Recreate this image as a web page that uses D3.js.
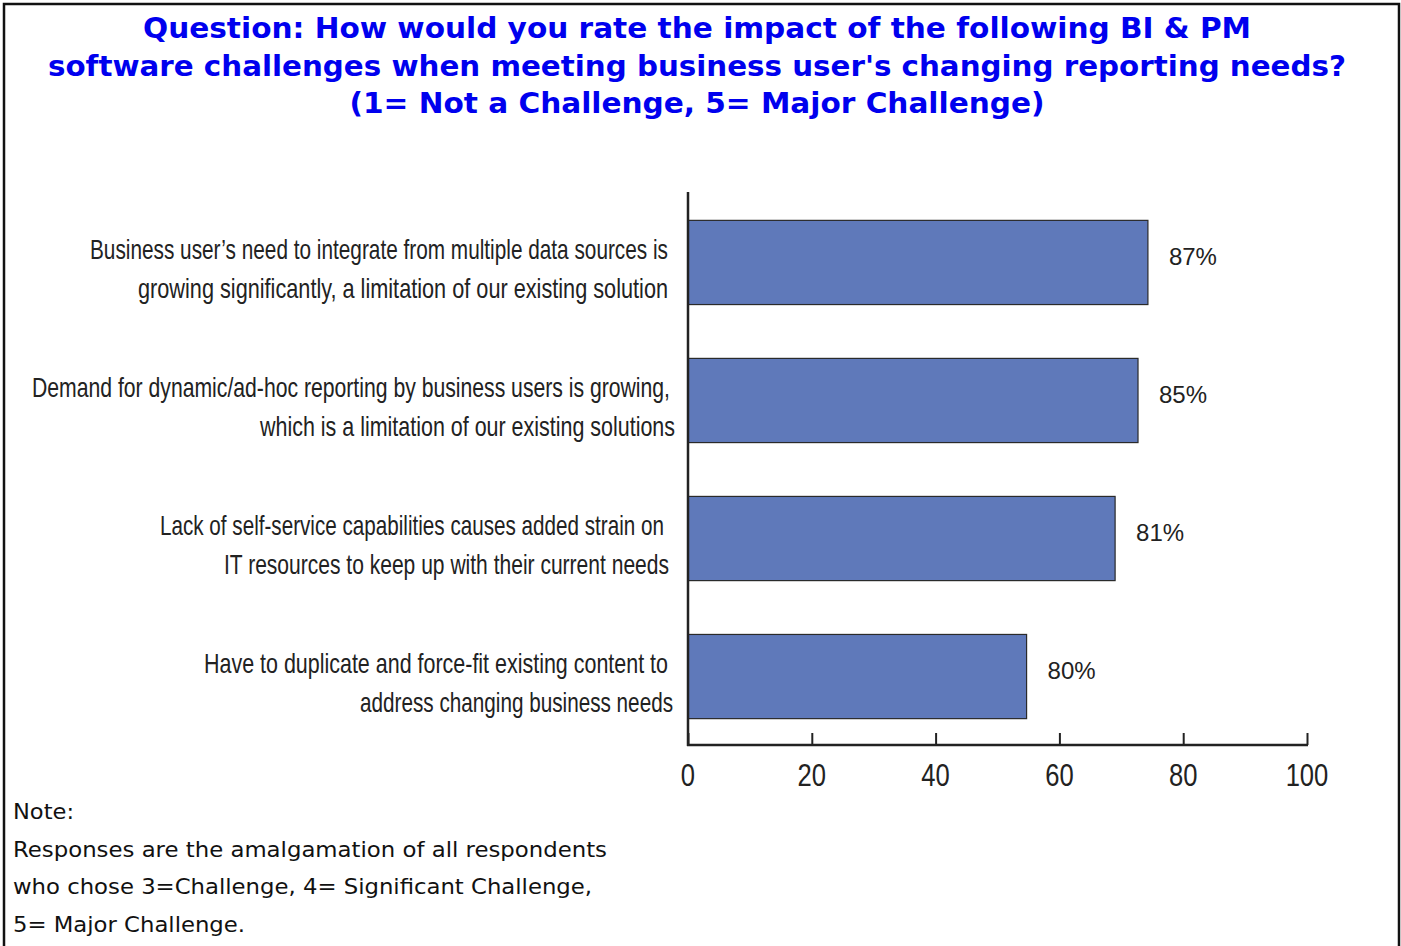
<!DOCTYPE html>
<html><head><meta charset="utf-8">
<script src="https://cdn.jsdelivr.net/npm/d3@7"></script>
<style>html,body{margin:0;padding:0;background:#fff;}svg{display:block;}</style>
</head><body>
<script>
// ---- data ----
const titleLines = [
  "Question: How would you rate the impact of the following BI & PM",
  "software challenges when meeting business user's changing reporting needs?",
  "(1= Not a Challenge, 5= Major Challenge)"
];
const categories = ["c1", "c2", "c3", "c4"];
const categoryLabels = [
  ["Business user\u2019s need to integrate from multiple data sources is", "growing significantly, a limitation of our existing solution"],
  ["Demand for dynamic/ad-hoc reporting by business users is growing,", "which is a limitation of our existing solutions"],
  ["Lack of self-service capabilities causes added strain on", "IT resources to keep up with their current needs"],
  ["Have to duplicate and force-fit existing content to", "address changing business needs"]
];
const barValues = [74.3, 72.7, 69.0, 54.7];
const valueLabels = ["87%", "85%", "81%", "80%"];
const xTicks = [0, 20, 40, 60, 80, 100];
const noteLines = [
  "Note:",
  "Responses are the amalgamation of all respondents",
  "who chose 3=Challenge, 4= Significant Challenge,",
  "5= Major Challenge."
];

// ---- layout ----
const W = 1401, H = 946;
const svg = d3.select("body").append("svg").attr("width", W).attr("height", H);

// frame
svg.append("path").attr("d", `M4,${H} L4,4 L1399,4 L1399,${H}`)
  .attr("fill", "none").attr("stroke", "#111").attr("stroke-width", 2.5);

// title
const titleWidths = [1108, 1298, 695];
svg.append("g").selectAll("text").data(titleLines).join("text")
  .attr("x", 697).attr("y", (d, i) => 38 + i * 37.5)
  .attr("text-anchor", "middle")
  .attr("font-family", "'DejaVu Sans', Verdana, sans-serif")
  .attr("font-weight", "bold").attr("font-size", 28)
  .attr("fill", "#0000ee")
  .attr("textLength", (d, i) => titleWidths[i]).attr("lengthAdjust", "spacingAndGlyphs")
  .text(d => d);

const x = d3.scaleLinear().domain([0, 100]).range([688, 1307]);
const y = d3.scaleBand().domain(categories).range([190, 749]).paddingInner(0.39).paddingOuter(0.22);

// bars
svg.append("g").selectAll("rect").data(categories).join("rect")
  .attr("x", x(0)).attr("y", d => y(d))
  .attr("width", (d, i) => x(barValues[i]) - x(0))
  .attr("height", y.bandwidth())
  .attr("fill", "#5f79ba").attr("stroke", "#2a2a2a").attr("stroke-width", 1.2);

// value labels
svg.append("g").selectAll("text").data(categories).join("text")
  .attr("x", (d, i) => x(barValues[i]) + 21)
  .attr("y", d => y(d) + y.bandwidth() / 2 - 6)
  .attr("dy", "0.35em")
  .attr("font-family", "'Liberation Sans', Arial, sans-serif")
  .attr("font-size", 24).attr("fill", "#222")
  .text((d, i) => valueLabels[i]);

// category labels
const lineWidths = [[578, 530], [638, 415], [504, 445], [464, 313]];
const lineRight = [[668, 668], [670, 675], [664, 669], [668, 673]];
const lg = svg.append("g");
categories.forEach((c, i) => {
  const cy = y(c) + y.bandwidth() / 2;
  categoryLabels[i].forEach((t, j) => {
    lg.append("text")
      .attr("x", lineRight[i][j])
      .attr("y", cy + (j === 0 ? -19.5 : 19.5) + 6)
      .attr("dy", "0.35em")
      .attr("text-anchor", "end")
      .attr("font-family", "'Liberation Sans Narrow', 'Arial Narrow', sans-serif")
      .attr("font-size", 28).attr("fill", "#222")
      .attr("textLength", lineWidths[i][j]).attr("lengthAdjust", "spacingAndGlyphs")
      .text(t);
  });
});

// axes
const xAxis = svg.append("g").attr("transform", "translate(0,745)")
  .call(d3.axisTop(x).tickValues(xTicks).tickSize(12).tickFormat(""));
xAxis.select(".domain").remove();
xAxis.selectAll(".tick line").attr("stroke", "#222").attr("stroke-width", 2);
svg.append("line").attr("x1", 687).attr("x2", 1308).attr("y1", 745).attr("y2", 745)
  .attr("stroke", "#222").attr("stroke-width", 2.5);
svg.append("line").attr("x1", 688).attr("x2", 688).attr("y1", 192).attr("y2", 746)
  .attr("stroke", "#222").attr("stroke-width", 2.5);

svg.append("g").selectAll("text").data(xTicks).join("text")
  .attr("x", d => x(d)).attr("y", 775).attr("dy", "0.35em")
  .attr("text-anchor", "middle")
  .attr("font-family", "'Liberation Sans Narrow', 'Arial Narrow', sans-serif")
  .attr("font-size", 32).attr("fill", "#222")
  .attr("transform", d => `translate(${x(d)},775) scale(0.8,1) translate(${-x(d)},-775)`)
  .text(d => d);

// note
const noteWidths = [61, 594, 579, 232];
svg.append("g").selectAll("text").data(noteLines).join("text")
  .attr("x", 13).attr("y", (d, i) => 812 + i * 37.5).attr("dy", "0.35em")
  .attr("font-family", "'DejaVu Sans', Verdana, sans-serif")
  .attr("font-size", 21).attr("fill", "#111")
  .attr("textLength", (d, i) => noteWidths[i]).attr("lengthAdjust", "spacingAndGlyphs")
  .text(d => d);
</script>
</body></html>
